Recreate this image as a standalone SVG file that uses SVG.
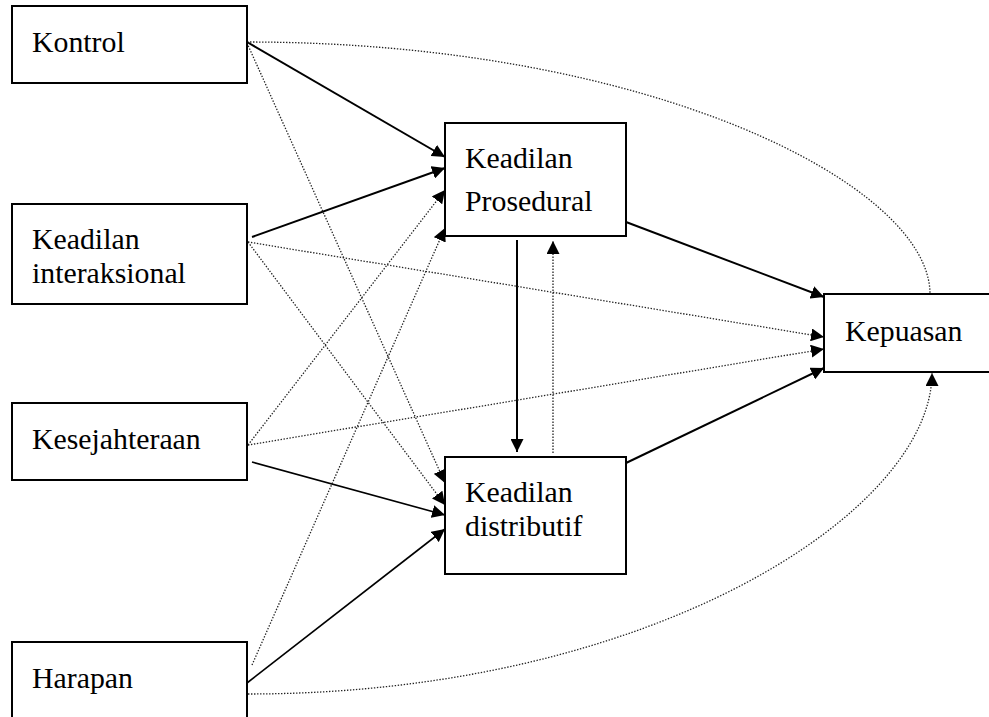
<svg xmlns="http://www.w3.org/2000/svg" width="989" height="717" viewBox="0 0 989 717">
  <style>
    .box { fill: #fff; stroke: #000; stroke-width: 2; }
    .lbl { font-family: "Liberation Serif", "Times New Roman", "DejaVu Serif", serif; font-size: 29.8px; fill: #000; }
    .solid { fill: none; stroke: #000; stroke-width: 2; }
    .thin { fill: none; stroke: #000; stroke-width: 1.6; }
    .dot { fill: none; stroke: #222; stroke-width: 1.3; stroke-dasharray: 1.4 1.6; }
  </style>
  <defs>
    <marker id="arrow" viewBox="0 0 13 13" refX="13" refY="6.5" markerWidth="13" markerHeight="13" markerUnits="userSpaceOnUse" orient="auto">
      <path d="M0,0 L13,6.5 L0,13 z" fill="#000"/>
    </marker>
  </defs>
  <rect width="989" height="717" fill="#fff"/>

  <g id="connectors">
    <!-- solid paths -->
    <line class="solid" x1="247" y1="42" x2="445" y2="157" marker-end="url(#arrow)"/>
    <line class="solid" x1="252" y1="237" x2="445" y2="168" marker-end="url(#arrow)"/>
    <line class="thin" x1="252" y1="462" x2="445" y2="515" marker-end="url(#arrow)"/>
    <line class="thin" x1="247" y1="683" x2="445" y2="529" marker-end="url(#arrow)"/>
    <line class="solid" x1="626" y1="222" x2="824" y2="297" marker-end="url(#arrow)"/>
    <line class="solid" x1="626" y1="463" x2="824" y2="368" marker-end="url(#arrow)"/>
    <line class="solid" x1="517" y1="240" x2="517" y2="452" marker-end="url(#arrow)"/>
    <!-- dotted paths -->
    <line class="dot" x1="553" y1="453" x2="553" y2="241" marker-end="url(#arrow)"/>
    <line class="dot" x1="248" y1="445" x2="445" y2="190" marker-end="url(#arrow)"/>
    <line class="dot" x1="252" y1="665" x2="445" y2="228" marker-end="url(#arrow)"/>
    <line class="dot" x1="247" y1="43" x2="445" y2="483" marker-end="url(#arrow)"/>
    <line class="dot" x1="248" y1="242" x2="445" y2="505" marker-end="url(#arrow)"/>
    <line class="dot" x1="248" y1="242" x2="824" y2="337" marker-end="url(#arrow)"/>
    <line class="dot" x1="248" y1="445" x2="824" y2="349" marker-end="url(#arrow)"/>
    <path class="dot" d="M247,42 C650,42 930,185 930,294"/>
    <path class="dot" d="M248,694 C650,694 932,512 932,373" marker-end="url(#arrow)"/>
  </g>

  <g id="kontrol">
    <rect class="box" x="12" y="6" width="235" height="77"/>
    <text class="lbl" x="32" y="52">Kontrol</text>
  </g>
  <g id="keadilan-interaksional">
    <rect class="box" x="12" y="204" width="235" height="100"/>
    <text class="lbl" x="32" y="249">Keadilan</text>
    <text class="lbl" x="32" y="283">interaksional</text>
  </g>
  <g id="kesejahteraan">
    <rect class="box" x="12" y="403" width="235" height="77"/>
    <text class="lbl" x="32" y="449">Kesejahteraan</text>
  </g>
  <g id="harapan">
    <rect class="box" x="12" y="642" width="235" height="90"/>
    <text class="lbl" x="32" y="688">Harapan</text>
  </g>
  <g id="keadilan-prosedural">
    <rect class="box" x="445" y="123" width="181" height="113"/>
    <text class="lbl" x="465" y="168">Keadilan</text>
    <text class="lbl" x="465" y="211">Prosedural</text>
  </g>
  <g id="keadilan-distributif">
    <rect class="box" x="445" y="457" width="181" height="117"/>
    <text class="lbl" x="465" y="502">Keadilan</text>
    <text class="lbl" x="465" y="536">distributif</text>
  </g>
  <g id="kepuasan">
    <rect class="box" x="824" y="294" width="180" height="78"/>
    <text class="lbl" x="845" y="341">Kepuasan</text>
  </g>
</svg>
